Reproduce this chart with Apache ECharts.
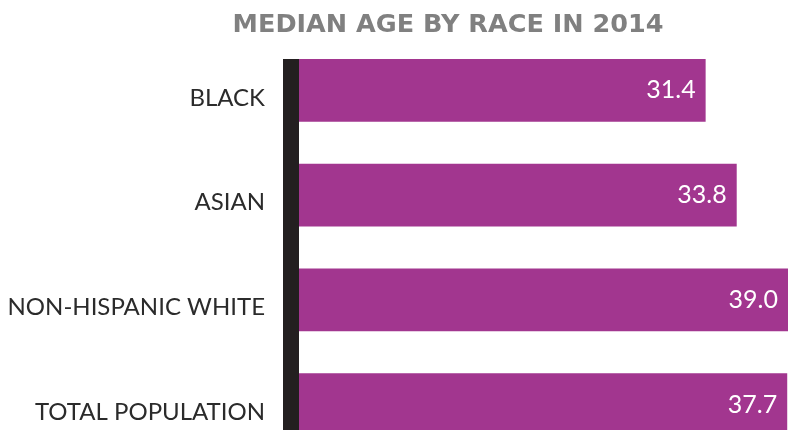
<!DOCTYPE html>
<html>
<head>
<meta charset="utf-8">
<script src="https://cdn.jsdelivr.net/npm/echarts@6/dist/echarts.min.js"></script>
<style>
  html, body { margin: 0; padding: 0; background: #ffffff; }
  #chart { width: 788px; height: 430px; }
</style>
</head>
<body>
<div id="chart"></div>
<script>
const categories = ['BLACK', 'ASIAN', 'NON-HISPANIC WHITE', 'TOTAL POPULATION']
const medianAges = [31.4, 33.8, 39.0, 37.7]

const chart = echarts.init(document.getElementById('chart'))

chart.setOption({
  animation: false,
  title: {
    text: 'MEDIAN AGE BY RACE IN 2014',
    left: 443,
    top: 7,
    textAlign: 'center',
    textStyle: {
      color: '#808080',
      fontFamily: 'DejaVu Sans',
      fontWeight: 'bold',
      fontSize: 25.5,
    },
  },
  grid: {
    left: 299,
    top: 38,
    width: 489,
    height: 419,
    outerBoundsMode: 'none',
    containLabel: false,
  },
  xAxis: {
    type: 'value',
    min: 0,
    max: 37.76,
    show: false,
  },
  yAxis: {
    type: 'category',
    data: categories,
    inverse: true,
    axisLine: { show: false },
    axisTick: { show: false },
    axisLabel: {
      color: '#2b2b2b',
      fontFamily: 'Lato',
      fontSize: 24,
      margin: 34,
      verticalAlign: 'top',
      lineHeight: 15,
    },
  },
  series: [
    {
      type: 'bar',
      data: medianAges,
      barCategoryGap: '40%',
      itemStyle: { color: '#a2368f' },
      label: {
        show: true,
        position: 'insideRight',
        distance: 10,
        color: '#ffffff',
        fontFamily: 'Lato',
        fontSize: 25,
        formatter: (p) => p.value.toFixed(1),
      },
    },
  ],
})

// thick dark rule along the bar baseline, from the top of the first bar down
const barHalf = 63 / 2
const ruleTop = chart.convertToPixel({ yAxisIndex: 0 }, categories[0]) - barHalf
const ruleLeft = chart.convertToPixel({ xAxisIndex: 0 }, 0)
chart.setOption({
  graphic: [
    {
      type: 'rect',
      shape: { x: ruleLeft - 16, y: ruleTop, width: 16, height: 430 - ruleTop },
      style: { fill: '#231f20' },
    },
  ],
})
</script>
</body>
</html>
